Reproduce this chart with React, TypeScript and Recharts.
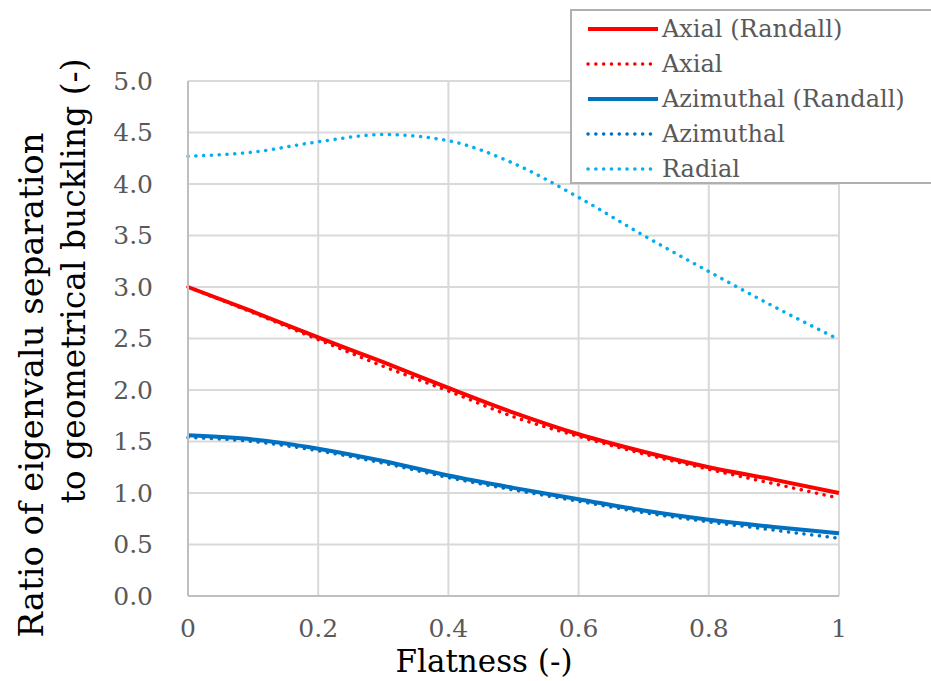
import {
  LineChart,
  Line,
  XAxis,
  YAxis,
  CartesianGrid,
} from "recharts";

const flatness = [0, 0.1, 0.2, 0.3, 0.4, 0.5, 0.6, 0.7, 0.8, 0.9, 1];
const axialRandall = [3.0, 2.76, 2.51, 2.27, 2.02, 1.78, 1.57, 1.4, 1.25, 1.13, 1.0];
const axial = [3.0, 2.75, 2.49, 2.23, 1.99, 1.74, 1.55, 1.38, 1.23, 1.09, 0.95];
const azimuthalRandall = [1.56, 1.52, 1.43, 1.31, 1.17, 1.05, 0.94, 0.83, 0.74, 0.67, 0.61];
const azimuthal = [1.54, 1.5, 1.41, 1.29, 1.15, 1.03, 0.92, 0.81, 0.72, 0.64, 0.56];
const radial = [4.27, 4.31, 4.41, 4.48, 4.42, 4.2, 3.87, 3.5, 3.15, 2.81, 2.49];

const xTicks = [0, 0.2, 0.4, 0.6, 0.8, 1];
const yTicks = [0, 0.5, 1, 1.5, 2, 2.5, 3, 3.5, 4, 4.5, 5];

const FONT = "'DejaVu Serif', 'Liberation Serif', serif";
const DOTTED = "0.1 7.7";

const series = [
  { key: "axialRandall", name: "Axial (Randall)", color: "#FF0000", dotted: false },
  { key: "axial", name: "Axial", color: "#FF0000", dotted: true },
  { key: "azimuthalRandall", name: "Azimuthal (Randall)", color: "#0070C0", dotted: false },
  { key: "azimuthal", name: "Azimuthal", color: "#0070C0", dotted: true },
  { key: "radial", name: "Radial", color: "#00B0F0", dotted: true },
];

const data = flatness.map((f, i) => ({
  f,
  axialRandall: axialRandall[i],
  axial: axial[i],
  azimuthalRandall: azimuthalRandall[i],
  azimuthal: azimuthal[i],
  radial: radial[i],
}));

// legend sits over the plot like in the excel original
const ChartLegend = () => (
  <div
    style={{
      position: "absolute",
      left: 570,
      top: 9,
      width: 380,
      height: 175,
      border: "2px solid #b0b0b0",
      background: "#fff",
      boxSizing: "border-box",
      paddingTop: 1,
      fontFamily: FONT,
      fontSize: 24,
      color: "#595959",
    }}
  >
    {series.map((s) => (
      <div key={s.key} style={{ display: "flex", alignItems: "center", height: 34.8 }}>
        <svg width={90} height={20} style={{ flex: "none" }}>
          <line
            x1={16}
            x2={86}
            y1={10}
            y2={10}
            stroke={s.color}
            strokeWidth={s.dotted ? 3.5 : 4}
            strokeLinecap={s.dotted ? "round" : "butt"}
            strokeDasharray={s.dotted ? DOTTED : undefined}
          />
        </svg>
        <span style={{ whiteSpace: "nowrap", lineHeight: "24px" }}>{s.name}</span>
      </div>
    ))}
  </div>
);

const YTitle = () => (
  <g fontFamily={FONT} fontSize={33} fill="#000">
    <text
      transform="translate(43, 385) rotate(-90)"
      textAnchor="middle"
      textLength={505}
      lengthAdjust="spacingAndGlyphs"
    >
      Ratio of eigenvalu separation
    </text>
    <text
      transform="translate(85, 281) rotate(-90)"
      textAnchor="middle"
      textLength={445}
      lengthAdjust="spacingAndGlyphs"
    >
      to geometrical buckling (-)
    </text>
  </g>
);

const XTitle = () => (
  <text
    x={484}
    y={672}
    textAnchor="middle"
    fontFamily={FONT}
    fontSize={31}
    fill="#000"
  >
    Flatness (-)
  </text>
);

const App = () => (
  <div style={{ position: "fixed", left: 0, top: 0, width: 931, height: 681, background: "#fff" }}>
    <LineChart
      width={931}
      height={681}
      data={data}
      margin={{ top: 81, right: 92, left: 0, bottom: 0 }}
    >
      <CartesianGrid stroke="#d9d9d9" strokeWidth={2} vertical horizontal />
      <XAxis
        dataKey="f"
        type="number"
        domain={[0, 1]}
        ticks={xTicks}
        tickFormatter={(v: number) => String(v)}
        height={85}
        tickSize={0}
        tickMargin={23}
        axisLine={{ stroke: "#bfbfbf", strokeWidth: 2 }}
        tickLine={false}
        tick={{ fontFamily: FONT, fontSize: 25, fill: "#595959" }}
        label={{ content: () => <XTitle /> }}
      />
      <YAxis
        type="number"
        domain={[0, 5]}
        ticks={yTicks}
        tickFormatter={(v: number) => v.toFixed(1)}
        width={188}
        tickSize={0}
        tickMargin={35}
        axisLine={{ stroke: "#bfbfbf", strokeWidth: 2 }}
        tickLine={false}
        tick={{ fontFamily: FONT, fontSize: 25, fill: "#595959" }}
        label={{ content: () => <YTitle /> }}
      />
      {series.map((s) => (
        <Line
          key={s.key}
          type="monotone"
          dataKey={s.key}
          name={s.name}
          stroke={s.color}
          strokeWidth={s.dotted ? 3.5 : 4}
          strokeLinecap={s.dotted ? "round" : "butt"}
          strokeDasharray={s.dotted ? DOTTED : undefined}
          dot={false}
          activeDot={false}
          isAnimationActive={false}
        />
      ))}
    </LineChart>
    <ChartLegend />
  </div>
);

export default App;
